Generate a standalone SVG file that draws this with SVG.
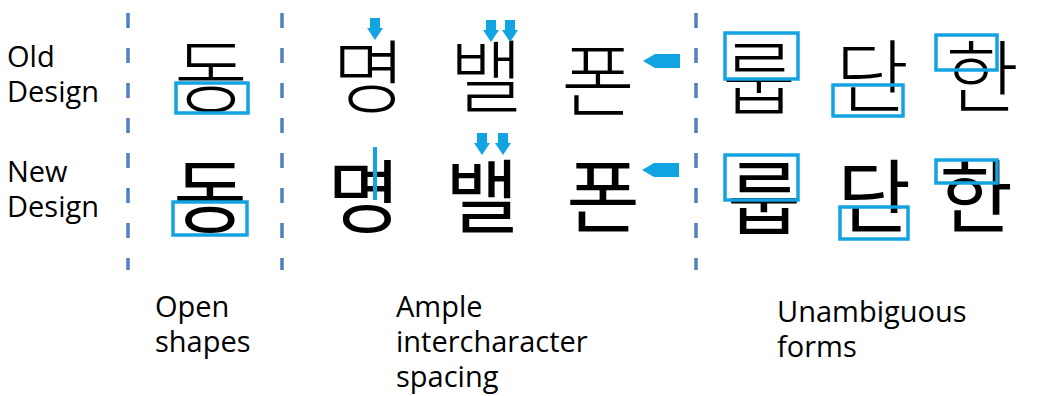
<svg xmlns="http://www.w3.org/2000/svg" width="1038" height="396" viewBox="0 0 1038 396">
<style>
.lbl{font-family:"Open Sans","Liberation Sans",sans-serif;font-size:29px;fill:#000}
.ko{font-family:"Noto Sans CJK KR",sans-serif;font-size:80px;fill:#000;text-anchor:middle}
.old{font-weight:300}
.new{font-weight:400}
.div{stroke:#4f81bd;stroke-width:3.5;stroke-dasharray:15 20;fill:none}
.box{fill:none;stroke:#12a3e3;stroke-width:3.5}
.mk{fill:#12a3e3}
</style>
<defs>
<path id="down" d="M-5,0 H5 V10 H8 L0,22 L-8,10 H-5 Z"/>
<path id="left" d="M0,0 L12,-7 H37 V7 H12 Z"/>
</defs>
<g id="dividers">
<line class="div" x1="128" y1="13" x2="128" y2="270"/>
<line class="div" x1="282" y1="13" x2="282" y2="270"/>
<line class="div" x1="696" y1="13" x2="696" y2="270"/>
</g>
<g id="row-labels">
<text class="lbl" x="7" y="67">Old</text>
<text class="lbl" x="7" y="102">Design</text>
<text class="lbl" x="7" y="182">New</text>
<text class="lbl" x="7" y="217">Design</text>
</g>
<g id="open-shapes">
<text class="ko old" x="211" y="106">동</text>
<rect class="box" x="176" y="83" width="72" height="30"/>
<text class="ko new" x="210" y="226">동</text>
<rect class="box" x="173" y="202" width="74" height="33"/>
</g>
<g id="spacing">
<text class="ko old" x="369" y="106">명</text>
<use href="#down" class="mk" x="375" y="18"/>
<text class="ko old" x="486" y="106">밸</text>
<use href="#down" class="mk" x="491" y="20"/>
<use href="#down" class="mk" x="510" y="20"/>
<text class="ko old" x="598" y="110">폰</text>
<use href="#left" class="mk" x="643" y="61"/>
<text class="ko new" x="364" y="226">명</text>
<rect class="mk" x="373" y="147" width="4" height="53"/>
<text class="ko new" x="482" y="226">밸</text>
<use href="#down" class="mk" x="482" y="133"/>
<use href="#down" class="mk" x="503" y="133"/>
<text class="ko new" x="603" y="226">폰</text>
<use href="#left" class="mk" x="642" y="170"/>
</g>
<g id="unambiguous">
<text class="ko old" x="759" y="108">룹</text>
<rect class="box" x="725" y="33" width="73" height="46"/>
<text class="ko old" x="872" y="106">단</text>
<rect class="box" x="833" y="85" width="70" height="31"/>
<text class="ko old" x="982" y="106">한</text>
<rect class="box" x="936" y="35" width="61" height="35"/>
<text class="ko new" x="764" y="228">룹</text>
<rect class="box" x="725" y="155" width="73" height="45"/>
<text class="ko new" x="874" y="226">단</text>
<rect class="box" x="840" y="207" width="68" height="32"/>
<text class="ko new" x="976" y="226">한</text>
<rect class="box" x="936" y="160" width="61" height="23"/>
</g>
<g id="captions">
<text class="lbl" x="155" y="317">Open</text>
<text class="lbl" x="155" y="352">shapes</text>
<text class="lbl" x="396" y="317">Ample</text>
<text class="lbl" x="396" y="352">intercharacter</text>
<text class="lbl" x="396" y="387">spacing</text>
<text class="lbl" x="777" y="322">Unambiguous</text>
<text class="lbl" x="777" y="357">forms</text>
</g>
</svg>
